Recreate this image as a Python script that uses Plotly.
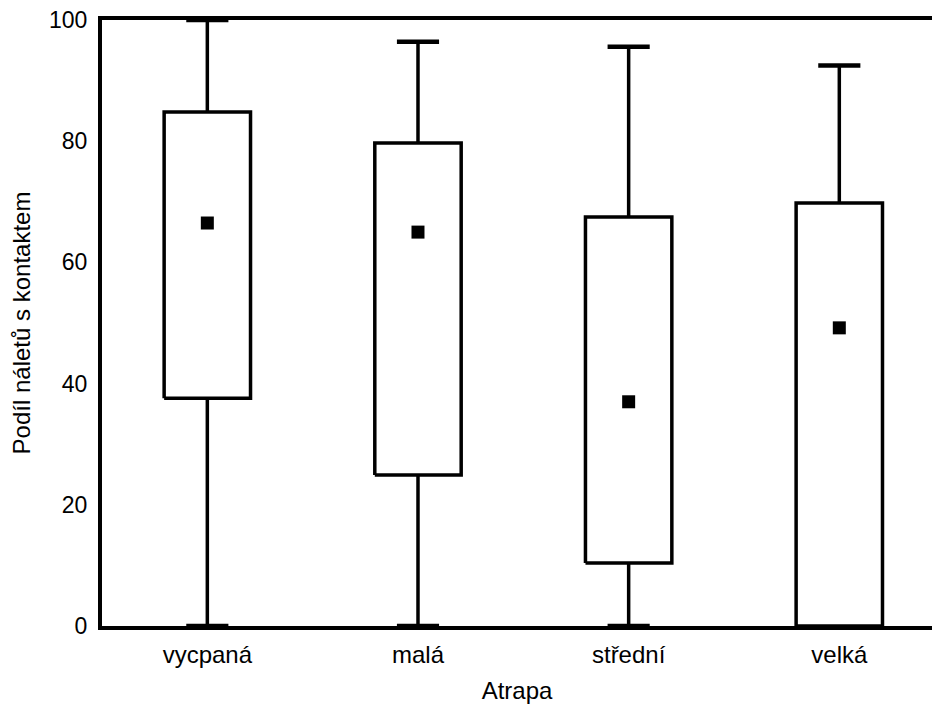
import plotly.graph_objects as go

categories = ["vycpaná", "malá", "střední", "velká"]
minimum = [0, 0, 0, 0]
q1 = [37.6, 24.9, 10.4, 0]
median = [66.5, 65.0, 37.0, 49.2]
q3 = [84.8, 79.7, 67.5, 69.8]
maximum = [100, 96.4, 95.6, 92.5]

box_half = 0.205
cap_half = 0.1
lw = 3.5
font = "Liberation Sans, Arial, sans-serif"

fig = go.Figure()
for i, c in enumerate(categories):
    # whiskers
    fig.add_trace(go.Scatter(x=[i, i, None, i, i], y=[q3[i], maximum[i], None, q1[i], minimum[i]],
                             mode="lines", line=dict(color="black", width=lw), showlegend=False, hoverinfo="skip"))
    # caps
    fig.add_trace(go.Scatter(x=[i - cap_half, i + cap_half, None, i - cap_half, i + cap_half],
                             y=[maximum[i], maximum[i], None, minimum[i], minimum[i]],
                             mode="lines", line=dict(color="black", width=4.5), showlegend=False, hoverinfo="skip"))
    # box
    fig.add_trace(go.Scatter(x=[i - box_half, i + box_half, i + box_half, i - box_half, i - box_half],
                             y=[q1[i], q1[i], q3[i], q3[i], q1[i]],
                             mode="lines", line=dict(color="black", width=lw), fill="toself",
                             fillcolor="white", showlegend=False, hoverinfo="skip"))

fig.add_trace(go.Scatter(x=list(range(len(categories))), y=median, mode="markers",
                         marker=dict(symbol="square", size=13, color="black"), showlegend=False))

fig.update_layout(
    width=932, height=704,
    margin=dict(l=102, r=0, t=20, b=78),
    plot_bgcolor="white", paper_bgcolor="white",
    font=dict(family=font, size=23, color="black"),
    xaxis=dict(range=[-0.5, 3.44], tickvals=list(range(len(categories))), ticktext=categories,
               showgrid=False, zeroline=False, showline=True, linecolor="black", linewidth=4,
               mirror=True, ticks="", ticklabelstandoff=4, tickfont=dict(size=24),
               title=dict(text="Atrapa", standoff=16, font=dict(size=24))),
    yaxis=dict(range=[0, 100], tickvals=[0, 20, 40, 60, 80, 100], showgrid=False, zeroline=False,
               showline=True, linecolor="black", linewidth=4, ticks="", ticklabelstandoff=6,
               title=dict(text="Podíl náletů s kontaktem", standoff=13, font=dict(size=24))),
)

fig.write_html("out.html")
